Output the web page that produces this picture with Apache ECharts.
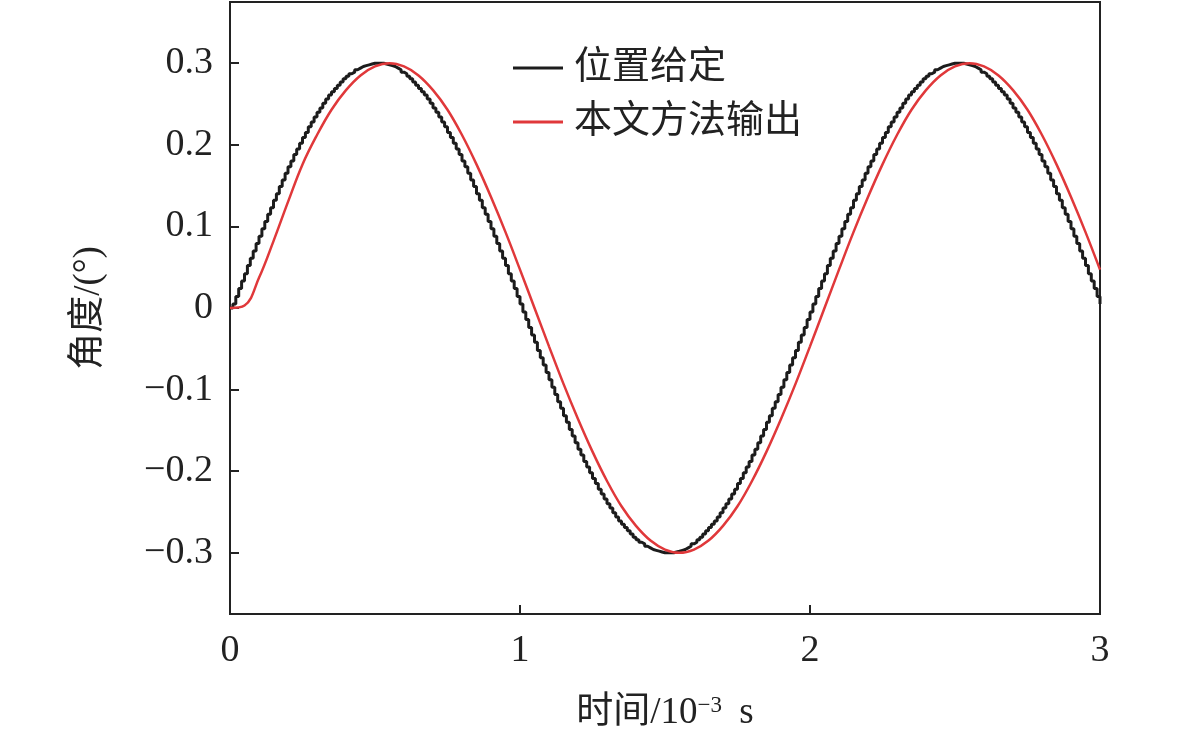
<!DOCTYPE html>
<html><head><meta charset="utf-8">
<script src="https://cdn.jsdelivr.net/npm/echarts@6/dist/echarts.min.js"></script>
<style>html,body{margin:0;padding:0;background:#fff}#c{width:1181px;height:741px}</style>
</head><body><div id="c"></div>
<script>
// sample spacing (10^-3 s)
const blackStep = 0.01;
const redStep = 0.05;
// 位置给定 (stepped reference), one held sample per 0.01
const riseB = [0.005,0.014,0.024,0.033,0.042,0.052,0.061,0.070,0.079,0.088,0.097,0.106,0.115,0.123,0.132,0.140,0.149,0.157,0.165,0.173,0.180,0.188,0.195,0.202,0.209,
               0.215,0.222,0.228,0.234,0.240,0.245,0.251,0.256,0.261,0.265,0.269,0.273,0.277,0.281,0.284,0.287,0.289,0.292,0.294,0.296,0.297,0.298,0.299,0.300,0.300];
const fallB = [0.300,0.300,0.299,0.298,0.297,0.296,0.294,0.292,0.289,0.287,0.284,0.281,0.277,0.273,0.269,0.265,0.261,0.256,0.251,0.245,0.240,0.234,0.228,0.222,0.215,
               0.209,0.202,0.195,0.188,0.180,0.173,0.165,0.157,0.149,0.140,0.132,0.123,0.115,0.106,0.097,0.088,0.079,0.070,0.061,0.052,0.042,0.033,0.024,0.014,0.005];
const negRiseB = [-0.005,-0.014,-0.024,-0.033,-0.042,-0.052,-0.061,-0.070,-0.079,-0.088,-0.097,-0.106,-0.115,-0.123,-0.132,-0.140,-0.149,-0.157,-0.165,-0.173,-0.180,-0.188,-0.195,-0.202,-0.209,
               -0.215,-0.222,-0.228,-0.234,-0.240,-0.245,-0.251,-0.256,-0.261,-0.265,-0.269,-0.273,-0.277,-0.281,-0.284,-0.287,-0.289,-0.292,-0.294,-0.296,-0.297,-0.298,-0.299,-0.300,-0.300];
const negFallB = [-0.300,-0.300,-0.299,-0.298,-0.297,-0.296,-0.294,-0.292,-0.289,-0.287,-0.284,-0.281,-0.277,-0.273,-0.269,-0.265,-0.261,-0.256,-0.251,-0.245,-0.240,-0.234,-0.228,-0.222,-0.215,
               -0.209,-0.202,-0.195,-0.188,-0.180,-0.173,-0.165,-0.157,-0.149,-0.140,-0.132,-0.123,-0.115,-0.106,-0.097,-0.088,-0.079,-0.070,-0.061,-0.052,-0.042,-0.033,-0.024,-0.014,-0.005];
const blackValues = [0].concat(riseB, fallB, negRiseB, negFallB, riseB, fallB);
// 本文方法输出, one sample per 0.05
const redValues = [0,0.003,
  0.037,0.082,0.130,0.176,0.212,0.243,0.267,0.285,0.296,0.300,
  0.296,0.285,0.267,0.243,0.212,0.176,0.136,0.093,0.047,0,
  -0.047,-0.093,-0.136,-0.176,-0.212,-0.243,-0.267,-0.285,-0.296,-0.300,
  -0.296,-0.285,-0.267,-0.243,-0.212,-0.176,-0.136,-0.093,-0.047,0,
  0.047,0.093,0.136,0.176,0.212,0.243,0.267,0.285,0.296,0.300,
  0.296,0.285,0.267,0.243,0.212,0.176,0.136,0.093,0.047];
const seriesNames = ['位置给定','本文方法输出'];
const yTicks = [-0.3,-0.2,-0.1,0,0.1,0.2,0.3];
const xTicks = [0,1,2,3];

const blackData = blackValues.map((v,i)=>[+(i*blackStep).toFixed(4), v]);
const redData = redValues.map((v,i)=>[+(i*redStep).toFixed(4), v]);

const serif = '"Liberation Serif","Times New Roman","Noto Sans CJK SC",serif';
const ink = '#222';
const chart = echarts.init(document.getElementById('c'));
chart.setOption({
  backgroundColor:'#fff',
  animation:false,
  grid:{left:230,right:81,top:2,bottom:127,show:true,borderColor:ink,borderWidth:2,backgroundColor:'transparent'},
  legend:{
    orient:'vertical', left:508, top:44,
    itemWidth:50, itemHeight:3, itemGap:16, icon:'rect',
    textStyle:{fontFamily:serif,fontSize:38,color:ink,padding:[0,0,0,6]},
    data:seriesNames
  },
  xAxis:{
    type:'value', min:0, max:3, interval:1,
    axisLine:{onZero:false,lineStyle:{color:ink,width:2}},
    axisTick:{inside:true,length:9,lineStyle:{color:ink,width:2}},
    splitLine:{show:false},
    axisLabel:{fontFamily:serif,fontSize:38,color:ink,margin:18,customValues:xTicks},
    name:'时间/10{sup|−3} s', nameLocation:'middle', nameGap:80,
    nameTextStyle:{fontFamily:serif,fontSize:37,color:ink,rich:{sup:{fontFamily:serif,fontSize:23,color:ink,verticalAlign:'top',padding:[0,8,16,0]}}}
  },
  yAxis:{
    type:'value', min:-0.375, max:0.375,
    axisLine:{onZero:false,lineStyle:{color:ink,width:2}},
    axisTick:{inside:true,length:9,lineStyle:{color:ink,width:2},customValues:yTicks},
    splitLine:{show:false},
    axisLabel:{fontFamily:serif,fontSize:38,color:ink,margin:17,customValues:yTicks,
      formatter:v=>{ if(Math.abs(v)<1e-9) return '0'; const s=Math.abs(v).toFixed(1); return v<0?'−'+s:s; }},
    name:'角度/(°)', nameLocation:'middle', nameGap:122, nameRotate:90,
    nameTextStyle:{fontFamily:serif,fontSize:37,color:ink}
  },
  series:[
    {name:seriesNames[0], type:'line', step:'end', data:blackData, showSymbol:false,
     lineStyle:{color:'#1c1c1c',width:3}, itemStyle:{color:'#1c1c1c'}},
    {name:seriesNames[1], type:'line', smooth:0.4, data:redData, showSymbol:false,
     lineStyle:{color:'#e0383a',width:2.5}, itemStyle:{color:'#e0383a'}}
  ]
});
</script></body></html>
